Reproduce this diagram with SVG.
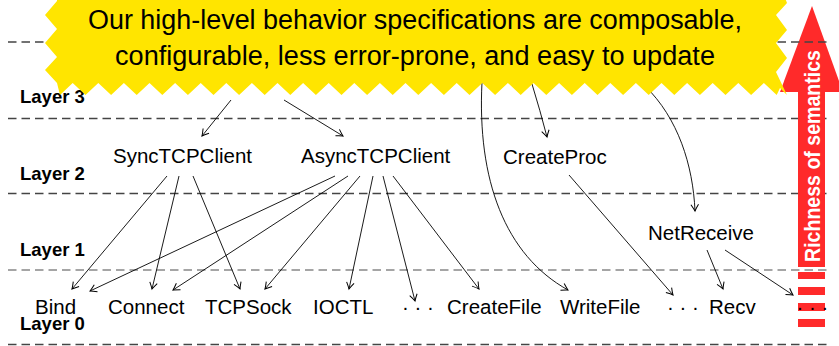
<svg xmlns="http://www.w3.org/2000/svg" width="839" height="346" viewBox="0 0 839 346">
<style>
.dash{stroke:#444;stroke-width:1.3;stroke-dasharray:8.5 5;fill:none}
.dash.g{stroke:#888}
.lay{font-family:"Liberation Sans",Arial,sans-serif;font-weight:bold;font-size:18.5px;fill:#000}
.nd{font-family:"Liberation Sans",Arial,sans-serif;font-size:20.5px;fill:#000}
.ban{font-family:"Liberation Sans",Arial,sans-serif;font-size:27px;fill:#000;text-anchor:middle}
.red{fill:#FF2A2A}
.cn path{fill:none;stroke:#000;stroke-width:0.9;marker-end:url(#ah)}
</style>
<defs>
<marker id="ah" viewBox="-8 -5 10 10" refX="0" refY="0" markerWidth="10" markerHeight="10" markerUnits="userSpaceOnUse" orient="auto">
<path d="M-6.5,-3.8 Q-2,-0.9 0,0 Q-2,0.9 -6.5,3.8" fill="none" stroke="#000" stroke-width="1"/>
</marker>
</defs>
<rect width="839" height="346" fill="#fff"/>
<g id="semantics-arrow-back">
<polygon class="red" points="812,6 843,92 780,92"/>
<rect class="red" x="798" y="272" width="27" height="7"/>
<rect class="red" x="798" y="287" width="27" height="8"/>
<rect class="red" x="798" y="303" width="27" height="8"/>
<rect class="red" x="798" y="319" width="27" height="8"/>
</g>
<g id="layer-lines">
<line class="dash" x1="8" y1="42" x2="830" y2="42"/>
<line class="dash" x1="8" y1="118.5" x2="830" y2="118.5"/>
<line class="dash" x1="8" y1="193.5" x2="830" y2="193.5"/>
<line class="dash g" x1="8" y1="270" x2="830" y2="270"/>
<line class="dash" x1="8" y1="344.5" x2="830" y2="344.5"/>
</g>
<g id="semantics-arrow">
<rect class="red" x="798" y="91" width="27" height="176"/>
<text transform="translate(820,156) rotate(-90)" text-anchor="middle" font-family="'Liberation Sans',Arial,sans-serif" font-weight="bold" font-size="22" fill="#fff" textLength="212" lengthAdjust="spacingAndGlyphs">Richness of semantics</text>
</g>
<g id="layer-labels">
<text class="lay" x="20" y="103">Layer 3</text>
<text class="lay" x="20" y="179.5">Layer 2</text>
<text class="lay" x="20" y="256">Layer 1</text>
<text class="lay" x="20" y="330">Layer 0</text>
</g>
<g id="SyncTCPClient"><text class="nd" x="113" y="163">SyncTCPClient</text></g>
<g id="AsyncTCPClient"><text class="nd" x="301" y="163">AsyncTCPClient</text></g>
<g id="CreateProc"><text class="nd" x="503" y="164">CreateProc</text></g>
<g id="NetReceive"><text class="nd" x="648" y="240">NetReceive</text></g>
<g id="Bind"><text class="nd" x="35" y="314">Bind</text></g>
<g id="Connect"><text class="nd" x="108" y="314">Connect</text></g>
<g id="TCPSock"><text class="nd" x="205" y="314">TCPSock</text></g>
<g id="IOCTL"><text class="nd" x="313" y="314">IOCTL</text></g>
<g id="dots1"><text class="nd" x="402" y="314">· · ·</text></g>
<g id="CreateFile"><text class="nd" x="447" y="314">CreateFile</text></g>
<g id="WriteFile"><text class="nd" x="560" y="314">WriteFile</text></g>
<g id="dots2"><text class="nd" x="667" y="314">· · ·</text></g>
<g id="Recv"><text class="nd" x="709" y="314">Recv</text></g>
<g id="dots3"><text class="nd" x="796.5" y="314" font-size="19.5">· · ·</text></g>
<g id="connectors" class="cn">
<path d="M231,100 L202,136"/>
<path d="M284,100 L343,136"/>
<path d="M482,82 C477,180 505,255 568,290"/>
<path d="M532,84 Q540,110 547,137"/>
<path d="M645,86 C678,118 693,165 695,211"/>
<path d="M167,176 L72,289"/>
<path d="M179,176 L152,289"/>
<path d="M193,176 L240,289"/>
<path d="M335,176 L90,291"/>
<path d="M348,176 L173,290"/>
<path d="M360,176 L265,289"/>
<path d="M373,176 L349,289"/>
<path d="M383,176 L415,301"/>
<path d="M393,176 L479,289"/>
<path d="M569,175 L673,295"/>
<path d="M707,250 L723,289"/>
<path d="M725,250 L793,295"/>
</g>
<g id="banner">
<path fill="#FFE500" d="M57,-10 L57,1 L45,15 L57,29 L45,43 L57,57 L45,70 L57,83 L60,95 L72.7,83 L85.5,95 L98.3,83 L111.1,95 L123.9,83 L136.7,95 L149.5,83 L162.3,95 L175.1,83 L187.9,95 L200.7,83 L213.5,95 L226.3,83 L239.1,95 L251.9,83 L264.7,95 L277.5,83 L290.3,95 L303.1,83 L315.9,95 L328.7,83 L341.5,95 L354.3,83 L367.1,95 L379.9,83 L392.7,95 L405.5,83 L418.3,95 L431.1,83 L443.9,95 L456.7,83 L469.5,95 L482.3,83 L495.1,95 L507.9,83 L520.7,95 L533.5,83 L546.3,95 L559.1,83 L571.9,95 L584.7,83 L597.5,95 L610.3,83 L623.1,95 L635.9,83 L648.7,95 L661.5,83 L674.3,95 L687.1,83 L699.9,95 L712.7,83 L725.5,95 L738.3,83 L751.1,95 L763.9,83 L776.7,95 L780,88 L787,95 L776,72 L787,58 L776,43 L787,30 L776,15 L787,3 L782,-10 Z"/>
<text class="ban" x="415" y="29" textLength="654" lengthAdjust="spacingAndGlyphs">Our high-level behavior specifications are composable,</text>
<text class="ban" x="415" y="65" textLength="600" lengthAdjust="spacingAndGlyphs">configurable, less error-prone, and easy to update</text>
</g>
</svg>
